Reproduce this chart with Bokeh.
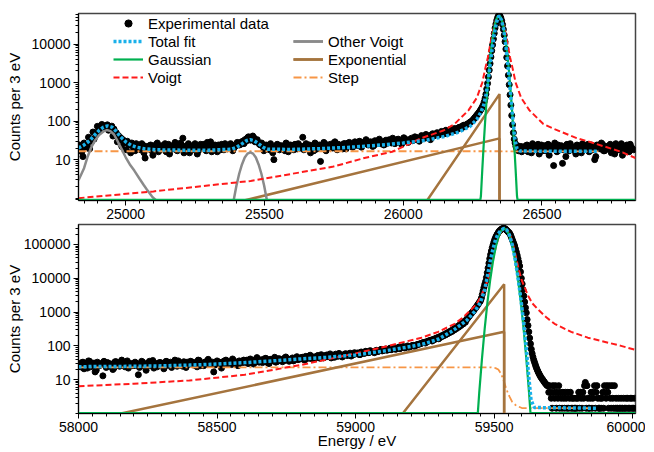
import numpy as np
from bokeh.plotting import figure
from bokeh.layouts import column
from bokeh.models import (Range1d, FixedTicker, SingleIntervalTicker,
                          PrintfTickFormatter, Legend, LegendItem)
from bokeh.embed import file_html
from bokeh.resources import INLINE

FONT = "Liberation Sans"

# ------------------------------------------------------------------ top panel
top_x_range = (24830, 26837)
top_y_range = (0.87, 62000)
top_y_ticks = [10, 100, 1000, 10000]

# experimental counts (start energy, bin step, counts)
top_counts_a_start, top_counts_a_step = 24830, 8
top_counts_a = [
    19, 22, 12, 21, 25, 19, 30, 34, 48, 55, 68, 76, 72, 80, 70, 74, 62, 50, 42, 37, 33, 28, 30, 24, 27,
    19, 26, 21, 18, 24, 11, 20, 23, 17, 22, 25, 16, 21, 19, 26, 20, 14, 22, 24, 18, 21, 27, 36, 19, 23,
    15, 21, 24, 20, 17, 25, 22, 19, 28, 21, 16, 23, 20, 24, 18, 22, 26, 19, 21, 24, 20, 23, 27, 25, 30,
    33, 36, 38, 35, 37, 31, 28, 24, 22, 19, 23, 18, 21, 10, 20, 24, 19, 22, 17, 25, 21, 23, 18, 22, 26,
    20, 38, 23, 19, 24, 21, 17, 25, 22, 9, 23, 26, 20, 24, 22, 27, 21, 25, 23, 19, 26, 24, 28, 22, 25,
    27, 23, 29, 24, 26, 30, 25, 28, 23, 27, 31, 26, 29, 25, 30, 33, 27, 31, 29, 34, 30, 28, 35, 32, 30,
    36, 33, 38, 34, 37, 40, 36, 42, 39, 44, 41, 46, 43, 48, 52, 47, 55, 51, 58, 62, 57, 66, 70, 75, 72,
    82, 90, 98,
]
top_counts_a2_start, top_counts_a2_step = 24834, 8
top_counts_a2 = [
    24, 16, 27, 23, 38, 35, 52, 49, 73, 64, 82, 69, 77, 58, 60, 41, 45, 29, 33, 22, 28, 18, 25, 15, 22,
    17, 23, 20, 26, 15, 22, 19, 24, 13, 21, 27, 18, 23, 20, 16, 25, 22, 19, 28, 17, 21, 24, 15, 22, 26,
    21, 18, 26, 14, 23, 20, 25, 17, 22, 29, 19, 24, 16, 21, 25, 18, 23, 20, 26, 17, 22, 28, 24, 29, 26,
    30, 39, 32, 41, 29, 33, 25, 27, 17, 24, 20, 26, 15, 22, 25, 18, 23, 21, 27, 16, 24, 20, 25, 19, 23,
    22, 18, 26, 20, 15, 23, 27, 19, 24, 21, 28, 17, 23, 25, 20, 29, 18, 24, 22, 26, 19, 27, 23, 21, 29,
    25, 30, 21, 27, 33, 24, 29, 22, 31, 26, 34, 28, 24, 32, 27, 30, 36, 26, 33, 29, 25, 37, 31, 28, 34,
    31, 39, 35, 30, 42, 37, 45, 38, 33, 47, 43, 50, 45, 54, 49, 58, 53, 61, 56, 64, 60, 69, 65, 78, 80,
    86, 95,
]
top_counts_b_start, top_counts_b_step = 26250, 3
top_counts_b = [
    105, 110, 118, 125, 132, 142, 150, 160, 172, 185,
    200, 218, 240, 270, 320, 390, 500, 680, 950, 1400,
    2100, 3100, 4600, 6700, 9500, 13500, 19000, 26000, 33000, 41000,
    48000, 54000, 56000, 53000, 47000, 40000, 32000, 24000, 17000, 11500,
    7400, 4500, 2700, 1550, 880, 480, 260, 140, 80, 50,
    34, 27, 22, 19, 23, 17, 21, 18, 22, 16,
]
top_counts_c_start, top_counts_c_step = 26430, 8
top_counts_c = [
    21, 18, 24, 20, 15, 22, 19, 25, 21, 17, 23, 20, 13, 22, 7, 19, 24, 18, 8, 21, 25, 17, 22, 19, 14,
    23, 20, 26, 18, 21, 16, 24, 20, 12, 22, 19, 25, 17, 21, 23, 15, 20, 26, 18, 22, 13, 19, 24, 16, 21, 18,
]
top_counts_c2_start, top_counts_c2_step = 26434, 8
top_counts_c2 = [
    19, 23, 16, 22, 26, 18, 21, 14, 24, 20, 17, 25, 22, 19, 27, 16, 21, 23, 18, 12, 22, 26, 20, 17, 24,
    21, 15, 23, 19, 25, 22, 18, 10, 24, 20, 27, 17, 22, 19, 25, 21, 14, 23, 18, 26, 20, 17, 22, 25, 19,
]

top_fit_e = [24830, 24850, 24870, 24890, 24905, 24920, 24935, 24950, 24965, 24980, 25000, 25020, 25040,
             25070, 25110, 25200, 25300, 25380, 25400, 25420, 25435, 25449, 25463, 25478, 25495, 25510,
             25600, 25700, 25800, 25900, 26000, 26080, 26150, 26200, 26240, 26265, 26280, 26290, 26298,
             26305, 26312, 26320, 26328, 26336, 26345, 26354, 26362, 26370, 26378, 26386, 26394, 26402,
             26410, 26420, 26500, 26705]
top_fit_v = [20, 24, 31, 45, 58, 70, 75, 70, 55, 40, 29, 23.5, 21,
             19, 18, 17.6, 17.6, 18.6, 21, 26, 31, 33, 31, 26, 21, 18.6,
             18.4, 19.3, 20.8, 23.3, 27, 31.5, 40, 52, 72, 110, 170, 260, 480,
             950, 2500, 7000, 18000, 36000, 55000, 42000, 24000, 8800, 2400, 600, 130, 35,
             19, 16.8, 16.5, 16.4]

top_gauss_e = [24830, 26278, 26280, 26285, 26290, 26295, 26300, 26305, 26310, 26315, 26320, 26325,
               26330, 26335, 26340, 26345, 26350, 26355, 26360, 26365, 26370, 26375, 26380, 26385,
               26390, 26395, 26400, 26405, 26410, 26412, 26837]
top_gauss_v = [0.9, 0.9, 1.14, 5.6, 24.5, 93, 313, 930, 2420, 5540, 11200, 19800,
               31000, 42600, 51600, 55000, 51600, 42600, 31000, 19800, 11200, 5540, 2420, 930,
               313, 93, 24.5, 5.6, 1.14, 0.9, 0.9]

top_voigt_e = [24830, 25100, 25450, 25745, 25860, 25960, 26065, 26145, 26185, 26235, 26265, 26285,
               26295, 26305, 26315, 26325, 26335, 26345, 26355, 26365, 26375, 26385, 26395, 26405,
               26425, 26455, 26505, 26545, 26625, 26665, 26785, 26837]
top_voigt_v = [1.0, 1.5, 2.8, 6.5, 11, 16, 36, 57, 84, 190, 400, 1000,
               2200, 4500, 11000, 25000, 45000, 55000, 45000, 25000, 11000, 4500, 2200, 1000,
               400, 190, 84, 62, 36, 30, 16, 11]

top_other1_e = [24830, 24850, 24862, 24875, 24890, 24905, 24920, 24932, 24945, 24958, 24970, 24985,
                25000, 25015, 25031, 25050, 25065, 25079, 25095, 25110]
top_other1_v = [2.9, 6.0, 11.5, 20, 32, 44, 54, 58.6, 55, 45, 31, 19,
                11.5, 7.5, 5.2, 3.2, 2.2, 1.57, 1.1, 0.87]
top_other2_e = [25389, 25399, 25409, 25419, 25429, 25439, 25449, 25459, 25469, 25479, 25489, 25499, 25509]
top_other2_v = [0.87, 2.1, 4.3, 7.5, 11.3, 14.3, 15.5, 14.3, 11.3, 7.5, 4.3, 2.1, 0.87]

top_exp1_e = [25427, 26347, 26347]
top_exp1_v = [0.87, 35.6, 0.5]
top_exp2_e = [26086, 26347, 26347]
top_exp2_v = [0.87, 502, 0.5]

top_step_e = [24830, 26340, 26360, 26705]
top_step_v = [16.5, 16.5, 16.3, 16.3]

# --------------------------------------------------------------- bottom panel
bot_x_range = (58000, 60010)
bot_y_range = (1.0, 390000)
bot_y_ticks = [10, 100, 1000, 10000, 100000]

bot_counts_a_start, bot_counts_a_step = 58000, 8
bot_counts_a = [
    29, 24, 33, 27, 22, 35, 28, 31, 19, 26, 30, 13, 27, 32, 25, 29, 22, 34, 28, 26, 31, 24, 36, 27, 29,
    26, 31, 14, 28, 33, 24, 29, 35, 27, 22, 30, 26, 32, 28, 25, 34, 29, 23, 31, 27, 36, 28, 25, 30, 33,
    29, 34, 27, 31, 38, 26, 30, 33, 28, 35, 31, 17, 29, 34, 32, 27, 36, 30, 33, 28, 37, 31, 26, 34, 32,
    33, 38, 31, 36, 29, 40, 34, 37, 32, 42, 35, 30, 39, 36, 33, 41, 37, 34, 44, 38, 35, 40, 36, 43, 39,
    41, 46, 38, 44, 50, 42, 47, 45, 52, 43, 49, 46, 54, 48, 44, 51, 57, 49, 53, 47, 56, 52, 58, 50, 55,
    58, 62, 55, 64, 60, 67, 63, 70, 66, 72, 68, 75, 71, 78, 74, 80, 77, 84, 79, 86, 83, 90, 87, 94, 91,
    98, 104, 101, 110, 114, 122, 127, 133, 140, 148, 156, 165, 176, 188, 202, 218, 236, 256, 280, 308,
    340, 378, 420, 470, 530,
]
bot_counts_a2_start, bot_counts_a2_step = 58004, 8
bot_counts_a2 = [
    25, 32, 21, 30, 36, 24, 28, 17, 33, 26, 29, 35, 23, 31, 27, 20, 34, 29, 25, 38, 27, 32, 22, 30, 26,
    33, 27, 23, 35, 29, 19, 31, 26, 37, 28, 24, 32, 30, 21, 35, 27, 33, 29, 38, 25, 31, 28, 34, 23, 30,
    35, 28, 32, 24, 37, 30, 26, 34, 40, 29, 33, 27, 36, 31, 22, 35, 38, 29, 34, 41, 30, 27, 36, 33, 38,
    36, 30, 41, 34, 38, 45, 33, 39, 35, 43, 31, 40, 37, 46, 34, 42, 39, 36, 47, 41, 38, 44, 40, 48, 42,
    45, 40, 49, 43, 53, 46, 41, 50, 47, 55, 44, 52, 48, 58, 51, 46, 55, 60, 50, 54, 59, 53, 61, 57, 63,
    60, 56, 66, 61, 69, 64, 72, 67, 63, 74, 70, 79, 73, 81, 76, 85, 80, 88, 82, 92, 87, 96, 89, 100, 95,
    102, 97, 108, 112, 118, 125, 121, 136, 144, 139, 152, 170, 162, 182, 196, 210, 228, 248, 268, 295,
    325, 358, 400, 445, 500,
]
bot_counts_b_start, bot_counts_b_step = 59400, 3
bot_counts_b = [
    600, 640, 690, 740, 800, 860, 920, 990, 1060, 1140,
    1230, 1330, 1440, 1560, 1700, 1850, 2000, 2200, 2600, 3300,
    4200, 5300, 6600, 8000, 10500, 14500, 20000, 28000, 38000, 50000,
    64000, 80000, 97000, 118000, 140000, 160000, 180000, 200000, 220000, 240000,
    255000, 270000, 282000, 292000, 298000, 300000, 296000, 285000, 270000, 255000,
    240000, 228000, 212000, 190000, 165000, 142000, 122000, 105000, 90000, 74000,
    60000, 48000, 38000, 30000, 23000, 15500, 10000, 6800, 4600, 3000,
    2000, 1350, 950, 600, 400, 260, 170, 115, 80, 60,
    47, 38, 32, 27, 23, 20, 17.5, 15.5, 14, 12.5,
    11.5, 10.5, 9.8, 9, 8.3, 7.7, 7.2, 6.7, 6.7, 4.24,
]
bot_counts_c_start, bot_counts_c_step = 59700, 3
bot_counts_c = [
    6.67, 4.24, 2.82, 1.43, 6.67, 4.24, 2.82, 6.67, 1.43, 4.24,
    2.82, 6.67, 1.43, 4.24, 2.82, 1.43, 4.24, 2.82, 1.43, 4.24,
    2.82, 1.43, 4.24, 1.43, 2.82, 4.24, 1.43, 2.82, 1.43, 2.82,
    1.43, 1.43, 2.82, 1.43, 2.82, 4.24, 1.43, 4.24, 2.82, 1.43,
    4.24, 2.82, 6.67, 8.3, 1.43, 6.67, 2.82, 1.43, 1.43, 2.82,
    4.24, 1.43, 2.82, 4.24, 6.67, 1.43, 4.24, 6.67, 2.82, 1.43,
    1.43, 2.82, 1.43, 2.82, 4.24, 1.43, 6.67, 4.24, 2.82, 6.67,
    4.24, 1.43, 6.67, 2.82, 1.43, 6.67, 2.82, 1.43, 6.67, 1.43,
    2.82, 1.43, 1.43, 2.82, 1.43, 1.43, 2.82, 1.43, 1.43, 2.82,
    1.43, 1.43, 2.82, 1.43, 2.82, 1.43, 1.43, 2.82, 1.43, 2.82,
    1.43, 1.43, 2.82, 1.43,
]

bot_fit_e = [58000, 58100, 58200, 58300, 58400, 58500, 58600, 58700, 58800, 58900, 59000, 59100,
             59200, 59250, 59300, 59350, 59400, 59430, 59450, 59465, 59475, 59485, 59495, 59505,
             59515, 59525, 59535, 59545, 59555, 59565, 59575, 59585, 59595, 59605, 59615, 59625,
             59633, 59645, 59874]
bot_fit_v = [24.3, 24.5, 24.9, 25.7, 27, 29, 32, 36, 41, 46, 54, 70,
             96, 117, 160, 280, 560, 1050, 1900, 4300, 11000, 30000, 70000, 140000,
             210000, 265000, 299000, 270000, 190000, 100000, 40000, 12000, 3000, 600, 100, 12,
             2.5, 1.5, 1.43]

bot_gauss_e = [58000, 59441, 59446, 59456, 59466, 59476, 59486, 59496, 59506, 59516, 59526, 59536,
               59546, 59556, 59566, 59576, 59586, 59596, 59606, 59616, 59626, 59631, 60010]
bot_gauss_v = [1.03, 1.03, 4.0, 42, 338, 2040, 9370, 32600, 86000, 172000, 260000, 299000,
               260000, 172000, 86000, 32600, 9370, 2040, 338, 42, 4.0, 1.03, 1.03]

bot_voigt_e = [58000, 58200, 58400, 58600, 58800, 59000, 59118, 59238, 59298, 59358, 59388, 59418,
               59438, 59453, 59468, 59478, 59488, 59498, 59508, 59518, 59528, 59538, 59548, 59558,
               59568, 59578, 59588, 59598, 59608, 59623, 59638, 59658, 59688, 59718, 59778, 59838,
               59958, 60010]
bot_voigt_v = [6.4, 7.6, 9.5, 14, 27, 60, 100, 175, 260, 450, 700, 1200,
               1800, 3000, 5800, 9500, 19000, 45000, 100000, 185000, 265000, 299000, 265000, 185000,
               100000, 45000, 19000, 9500, 5800, 3000, 1800, 1200, 700, 450, 260, 175,
               100, 76]

bot_exp1_e = [58153, 59536, 59536]
bot_exp1_v = [1.0, 261, 0.5]
bot_exp2_e = [59170, 59536, 59536]
bot_exp2_v = [1.0, 6650, 0.5]

bot_step_e = [58000, 59490, 59505, 59515, 59525, 59535, 59545, 59555, 59565, 59580, 59600, 59874]
bot_step_v = [23.2, 23.0, 22.0, 20, 15, 9, 5, 3.2, 2.2, 1.7, 1.45, 1.43]

legend_col1 = ["Experimental data", "Total fit", "Gaussian", "Voigt"]
legend_col2 = ["Other Voigt", "Exponential", "Step"]

# ------------------------------------------------------------------ styling
C_BLUE = "#19b0ea"
C_GREEN = "#00b050"
C_RED = "#ff1a1a"
C_GRAY = "#8a8a8a"
C_BROWN = "#a5743e"
C_ORANGE = "#f79646"


def bins(start, step, counts):
    return [start + step * i for i in range(len(counts))]


def make_panel(xr, yr, yticks, frame_h, border_top, counts, fit, gauss, voigt, others,
               exps, step, with_legend, xlabel, ylabel_standoff):
    p = figure(frame_width=557, frame_height=frame_h, y_axis_type="log",
               x_range=Range1d(*xr), y_range=Range1d(*yr),
               output_backend="svg", toolbar_location=None,
               min_border_left=78, min_border_right=10, min_border_top=border_top,
               min_border_bottom=0)
    p.xgrid.visible = False
    p.ygrid.visible = False
    p.outline_line_color = "#444444"
    p.outline_line_width = 1.5
    p.background_fill_color = "white"

    # data
    ex, ey = [], []
    for s, st, c in counts:
        ex += bins(s, st, c)
        ey += list(c)
    r_data = p.scatter(ex, ey, size=6, color="black", marker="circle")

    r_step = p.line(step[0], step[1], line_color=C_ORANGE, line_width=1.8, line_dash="8 3 2 3")
    r_exp = [p.line(e, v, line_color=C_BROWN, line_width=2.5) for e, v in exps]
    r_oth = [p.line(e, v, line_color=C_GRAY, line_width=2.5) for e, v in others]
    r_voigt = p.line(voigt[0], voigt[1], line_color=C_RED, line_width=2, line_dash="6 3")
    r_gauss = p.line(gauss[0], gauss[1], line_color=C_GREEN, line_width=2.2)
    r_fit = p.line(fit[0], fit[1], line_color=C_BLUE, line_width=3.5, line_dash="3 2")

    # axes
    p.xaxis.ticker = SingleIntervalTicker(interval=500, num_minor_ticks=10)
    minors = [k * 10 ** e for e in range(-1, 6) for k in range(1, 10) if k * 10 ** e not in yticks]
    p.yaxis.ticker = FixedTicker(ticks=yticks, minor_ticks=minors)
    p.yaxis.formatter = PrintfTickFormatter(format="%d")
    for ax in (p.xaxis[0], p.yaxis[0]):
        ax.axis_line_color = "black"
        ax.major_tick_line_color = "black"
        ax.minor_tick_line_color = "black"
        ax.major_tick_in = 0
        ax.major_tick_out = 5
        ax.minor_tick_in = 0
        ax.minor_tick_out = 3
        ax.major_label_text_font = FONT
        ax.major_label_text_font_size = "14px"
        ax.major_label_text_color = "black"
        ax.major_label_standoff = 3
        ax.axis_label_text_font = FONT
        ax.axis_label_text_font_size = "15px"
        ax.axis_label_text_font_style = "normal"
        ax.axis_label_text_color = "black"
    p.yaxis.axis_label = "Counts per 3 eV"
    p.yaxis.axis_label_standoff = ylabel_standoff
    if xlabel:
        p.xaxis.axis_label = xlabel
        p.xaxis.axis_label_standoff = -3

    if with_legend:
        items1 = [LegendItem(label=legend_col1[0], renderers=[r_data]),
                  LegendItem(label=legend_col1[1], renderers=[r_fit]),
                  LegendItem(label=legend_col1[2], renderers=[r_gauss]),
                  LegendItem(label=legend_col1[3], renderers=[r_voigt])]
        items2 = [LegendItem(label=legend_col2[0], renderers=r_oth),
                  LegendItem(label=legend_col2[1], renderers=r_exp),
                  LegendItem(label=legend_col2[2], renderers=[r_step])]
        for items, xloc in ((items1, 35), (items2, 215)):
            lg = Legend(items=items, location=(xloc, frame_h - 1 - 72))
            lg.background_fill_alpha = 0
            lg.border_line_alpha = 0
            lg.padding = 0
            lg.spacing = 0
            lg.margin = 0
            lg.label_height = 18
            lg.glyph_height = 18
            lg.glyph_width = 30
            lg.label_standoff = 5
            lg.label_text_font = FONT
            lg.label_text_font_size = "15px"
            lg.label_text_color = "black"
            lg.click_policy = "none"
            p.add_layout(lg)
    return p


top = make_panel(top_x_range, top_y_range, top_y_ticks, 187, 13,
                 [(top_counts_a_start, top_counts_a_step, top_counts_a),
                  (top_counts_a2_start, top_counts_a2_step, top_counts_a2),
                  (top_counts_b_start, top_counts_b_step, top_counts_b),
                  (top_counts_c_start, top_counts_c_step, top_counts_c),
                  (top_counts_c2_start, top_counts_c2_step, top_counts_c2)],
                 (top_fit_e, top_fit_v), (top_gauss_e, top_gauss_v), (top_voigt_e, top_voigt_v),
                 [(top_other1_e, top_other1_v), (top_other2_e, top_other2_v)],
                 [(top_exp1_e, top_exp1_v), (top_exp2_e, top_exp2_v)],
                 (top_step_e, top_step_v), True, None, 6)

bottom = make_panel(bot_x_range, bot_y_range, bot_y_ticks, 189, 3,
                    [(bot_counts_a_start, bot_counts_a_step, bot_counts_a),
                     (bot_counts_a2_start, bot_counts_a2_step, bot_counts_a2),
                     (bot_counts_b_start, bot_counts_b_step, bot_counts_b),
                     (bot_counts_c_start, bot_counts_c_step, bot_counts_c)],
                    (bot_fit_e, bot_fit_v), (bot_gauss_e, bot_gauss_v), (bot_voigt_e, bot_voigt_v),
                    [], [(bot_exp1_e, bot_exp1_v), (bot_exp2_e, bot_exp2_v)],
                    (bot_step_e, bot_step_v), False, "Energy / eV", -2)

layout = column(top, bottom, spacing=0)
open("out.html", "w").write(file_html(layout, INLINE))
